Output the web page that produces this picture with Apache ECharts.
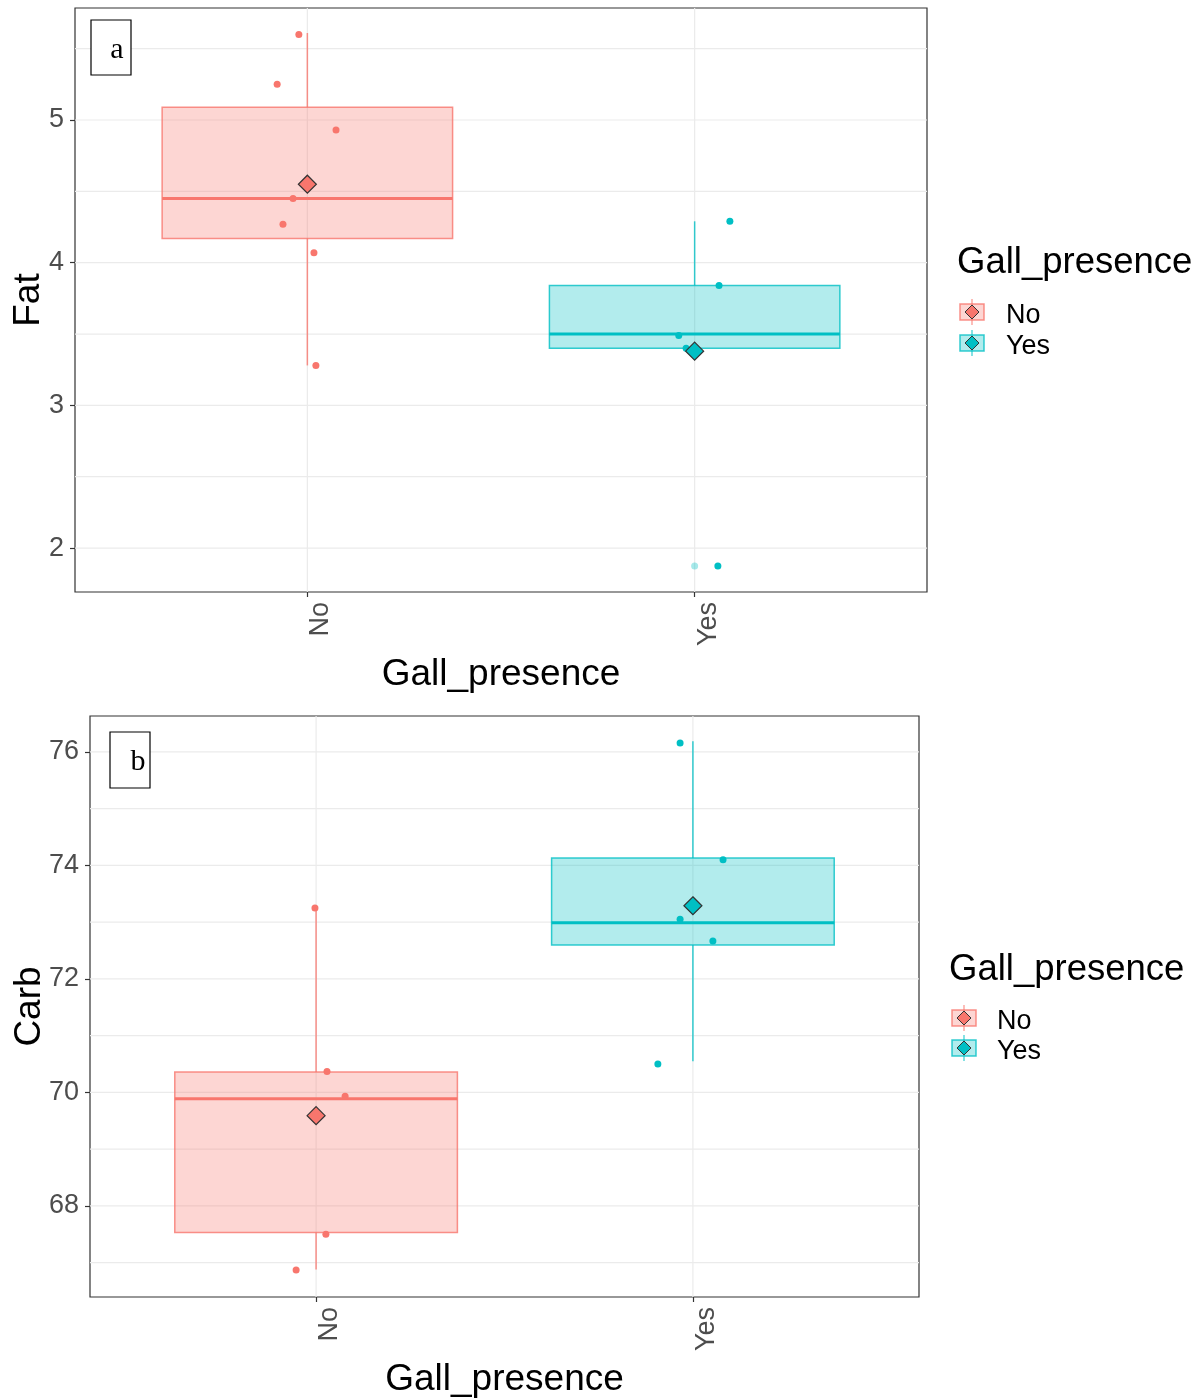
<!DOCTYPE html>
<html><head><meta charset="utf-8">
<script src="https://cdn.jsdelivr.net/npm/echarts@6/dist/echarts.min.js"></script>
<style>html,body{margin:0;padding:0;background:#fff}#c{width:1203px;height:1399px}</style>
</head><body><div id="c"></div>
<script>
// ---------- data ----------
const categories = ['No', 'Yes'];
const categoryPos = [1, 2];

// Panel a: Fat  (whisker low, Q1, median, Q3, whisker high)
const fatBoxStats = [[3.28, 4.17, 4.45, 5.09, 5.61], [3.40, 3.40, 3.50, 3.84, 4.29]];
const fatMeans = [4.55, 3.38];
const fatNoValues = [5.60, 5.25, 4.93, 4.45, 4.27, 4.07, 3.28];
const fatNoJitter = [0.978, 0.922, 1.074, 0.963, 0.937, 1.017, 1.022];
const fatYesValues = [4.29, 3.84, 3.49, 3.40, 1.875];
const fatYesJitter = [2.091, 2.063, 1.959, 1.978, 2.060];
const fatOutlierCats = ['Yes'];
const fatOutlierValues = [1.875];
const fatTicks = [2, 3, 4, 5];
const fatBreaks = [2, 2.5, 3, 3.5, 4, 4.5, 5, 5.5];
const fatRange = [1.692, 5.785];

// Panel b: Carb
const carbBoxStats = [[66.88, 67.53, 69.89, 70.36, 73.25], [70.55, 72.60, 72.99, 74.13, 76.19]];
const carbMeans = [69.59, 73.29];
const carbNoValues = [73.25, 70.37, 69.93, 67.50, 66.87];
const carbNoJitter = [0.997, 1.029, 1.077, 1.026, 0.947];
const carbYesValues = [76.16, 74.10, 73.05, 72.67, 70.50];
const carbYesJitter = [1.966, 2.080, 1.966, 2.053, 1.907];
const carbTicks = [68, 70, 72, 74, 76];
const carbBreaks = [67, 68, 69, 70, 71, 72, 73, 74, 75, 76];
const carbRange = [66.394, 76.634];

const xRange = [0.4, 2.6];
const panelLetters = ['a', 'b'];
const yTitles = ['Fat', 'Carb'];
const xTitle = 'Gall_presence';
const legendTitle = 'Gall_presence';

// ---------- style ----------
const groupColors = ['#F8766D', '#00BFC4'];
const groupFills = ['rgba(248,118,109,0.3)', 'rgba(0,191,196,0.3)'];
const groupStrokes = ['rgba(248,118,109,0.8)', 'rgba(0,191,196,0.8)'];
const SANS = '"Liberation Sans", Arial, sans-serif';
const SERIF = '"Liberation Serif", "Times New Roman", serif';

const grids = [
  {left: 75, top: 8, width: 852, height: 584},
  {left: 90, top: 716, width: 829, height: 581}
];

function gridLineH(params, api) {
  const cs = params.coordSys;
  const y = api.coord([xRange[0], api.value(0)])[1];
  return {type: 'line', shape: {x1: cs.x, y1: y, x2: cs.x + cs.width, y2: y},
    style: {stroke: '#EBEBEB', lineWidth: 1.2}, silent: true};
}
function gridLineV(params, api) {
  const cs = params.coordSys;
  const x = api.coord([api.value(0), 0])[0];
  return {type: 'line', shape: {x1: x, y1: cs.y, x2: x, y2: cs.y + cs.height},
    style: {stroke: '#EBEBEB', lineWidth: 1.2}, silent: true};
}
function boxRender(params, api) {
  const i = params.dataIndex;
  const x = api.value(0), lo = api.value(1), q1 = api.value(2), med = api.value(3), q3 = api.value(4), hi = api.value(5);
  const half = 0.375;
  const pTL = api.coord([x - half, q3]);
  const pBR = api.coord([x + half, q1]);
  const pMedL = api.coord([x - half, med]);
  const pMedR = api.coord([x + half, med]);
  const pHi = api.coord([x, hi]);
  const pLo = api.coord([x, lo]);
  return {type: 'group', children: [
    {type: 'line', shape: {x1: pHi[0], y1: pHi[1], x2: pHi[0], y2: pTL[1]}, style: {stroke: groupStrokes[i], lineWidth: 1.5}},
    {type: 'line', shape: {x1: pLo[0], y1: pLo[1], x2: pLo[0], y2: pBR[1]}, style: {stroke: groupStrokes[i], lineWidth: 1.5}},
    {type: 'rect', shape: {x: pTL[0], y: pTL[1], width: pBR[0] - pTL[0], height: pBR[1] - pTL[1]},
      style: {fill: groupFills[i], stroke: groupStrokes[i], lineWidth: 1.5}},
    {type: 'line', shape: {x1: pMedL[0], y1: pMedL[1], x2: pMedR[0], y2: pMedR[1]}, style: {stroke: groupColors[i], lineWidth: 3}}
  ]};
}

const xAxes = [], yAxes = [], series = [], graphics = [];
const panels = [
  {stats: fatBoxStats, means: fatMeans, pts: [[fatNoJitter, fatNoValues], [fatYesJitter, fatYesValues]],
   outCats: fatOutlierCats, outVals: fatOutlierValues, ticks: fatTicks, breaks: fatBreaks, range: fatRange,
   yGap: 28},
  {stats: carbBoxStats, means: carbMeans, pts: [[carbNoJitter, carbNoValues], [carbYesJitter, carbYesValues]],
   outCats: [], outVals: [], ticks: carbTicks, breaks: carbBreaks, range: carbRange,
   yGap: 42}
];

panels.forEach((p, k) => {
  xAxes.push({
    type: 'value', gridIndex: k, min: xRange[0], max: xRange[1],
    name: xTitle, nameLocation: 'middle', nameGap: 64, nameMoveOverlap: false,
    nameTextStyle: {fontFamily: SANS, fontSize: 37, color: '#000'},
    axisLine: {show: false}, splitLine: {show: false},
    axisTick: {show: true, customValues: categoryPos, length: 5, lineStyle: {color: '#333', width: 1.2}},
    axisLabel: {customValues: categoryPos, rotate: 90, margin: 10, verticalAlign: 'top',
      fontFamily: SANS, fontSize: 27, color: '#4D4D4D',
      formatter: v => categories[categoryPos.indexOf(Math.round(v))]}
  });
  yAxes.push({
    type: 'value', gridIndex: k, min: p.range[0], max: p.range[1],
    name: yTitles[k], nameLocation: 'middle', nameGap: p.yGap, nameMoveOverlap: false,
    nameTextStyle: {fontFamily: SANS, fontSize: 37, color: '#000'},
    axisLine: {show: false}, splitLine: {show: false},
    axisTick: {show: true, customValues: p.ticks, length: 5, lineStyle: {color: '#333', width: 1.2}},
    axisLabel: {customValues: p.ticks, margin: 11, fontFamily: SANS, fontSize: 27, color: '#4D4D4D'}
  });
  series.push({type: 'custom', xAxisIndex: k, yAxisIndex: k, z: 1, silent: true,
    data: p.breaks.map(v => [v]), renderItem: gridLineH});
  series.push({type: 'custom', xAxisIndex: k, yAxisIndex: k, z: 1, silent: true,
    data: categoryPos.map(v => [v]), renderItem: gridLineV});
  series.push({type: 'custom', xAxisIndex: k, yAxisIndex: k, z: 2,
    data: p.stats.map((s, i) => [categoryPos[i]].concat(s)), renderItem: boxRender});
  // outliers (faded)
  series.push({type: 'scatter', xAxisIndex: k, yAxisIndex: k, z: 3, symbolSize: 7,
    data: p.outVals.map((v, j) => {
      const ci = categories.indexOf(p.outCats[j]);
      return {value: [categoryPos[ci], v], itemStyle: {color: groupColors[ci], opacity: 0.35}};
    })});
  // jittered points
  p.pts.forEach((pp, i) => {
    series.push({type: 'scatter', xAxisIndex: k, yAxisIndex: k, z: 3, symbolSize: 7,
      itemStyle: {color: groupColors[i], opacity: 1},
      data: pp[1].map((v, j) => [pp[0][j], v])});
  });
  // means
  series.push({type: 'scatter', xAxisIndex: k, yAxisIndex: k, z: 4, symbol: 'diamond', symbolSize: 18,
    data: p.means.map((m, i) => ({value: [categoryPos[i], m], itemStyle: {color: groupColors[i]}})),
    itemStyle: {borderColor: '#333', borderWidth: 1.2, opacity: 1}});
});

// panel letters
const letterBoxes = [
  {x: 91, y: 20, w: 40, h: 55, tx: 117, ty: 50},
  {x: 110, y: 732, w: 40, h: 56, tx: 138, ty: 762}
];
letterBoxes.forEach((b, k) => {
  graphics.push({type: 'rect', z: 100, shape: {x: b.x, y: b.y, width: b.w, height: b.h},
    style: {fill: '#fff', stroke: '#000', lineWidth: 1.2}});
  graphics.push({type: 'text', z: 101, x: b.tx, y: b.ty,
    style: {text: panelLetters[k], font: '30px ' + SERIF, fill: '#000', align: 'center', verticalAlign: 'middle'}});
});

// legends
const legendPos = [{x: 957, ty: 263, ky: [312, 343], kx: 960, lx: 1006},
                   {x: 949, ty: 970, ky: [1018, 1048], kx: 952, lx: 997}];
legendPos.forEach(L => {
  graphics.push({type: 'text', x: L.x, y: L.ty,
    style: {text: legendTitle, font: '36.5px ' + SANS, fill: '#000', verticalAlign: 'middle'}});
  categories.forEach((c, i) => {
    const cy = L.ky[i];
    graphics.push({type: 'line', shape: {x1: L.kx + 12, y1: cy - 13, x2: L.kx + 12, y2: cy + 13},
      style: {stroke: groupStrokes[i], lineWidth: 1.2}});
    graphics.push({type: 'rect', shape: {x: L.kx, y: cy - 8, width: 24, height: 16},
      style: {fill: groupFills[i], stroke: groupStrokes[i], lineWidth: 1.5}});
    graphics.push({type: 'polygon', shape: {points: [[L.kx + 12, cy - 7], [L.kx + 19, cy], [L.kx + 12, cy + 7], [L.kx + 5, cy]]},
      style: {fill: groupColors[i], stroke: '#333', lineWidth: 1}});
    graphics.push({type: 'text', x: L.lx, y: cy + 4,
      style: {text: c, font: '27px ' + SANS, fill: '#000', verticalAlign: 'middle'}});
  });
});

const chart = echarts.init(document.getElementById('c'), null, {renderer: 'canvas'});
chart.setOption({
  backgroundColor: '#fff',
  animation: false,
  grid: grids.map(g => Object.assign({show: true, borderColor: '#333', borderWidth: 1.2, backgroundColor: 'transparent',
    containLabel: false, outerBoundsMode: 'none'}, g)),
  xAxis: xAxes,
  yAxis: yAxes,
  series: series,
  graphic: {elements: graphics}
});
</script></body></html>
